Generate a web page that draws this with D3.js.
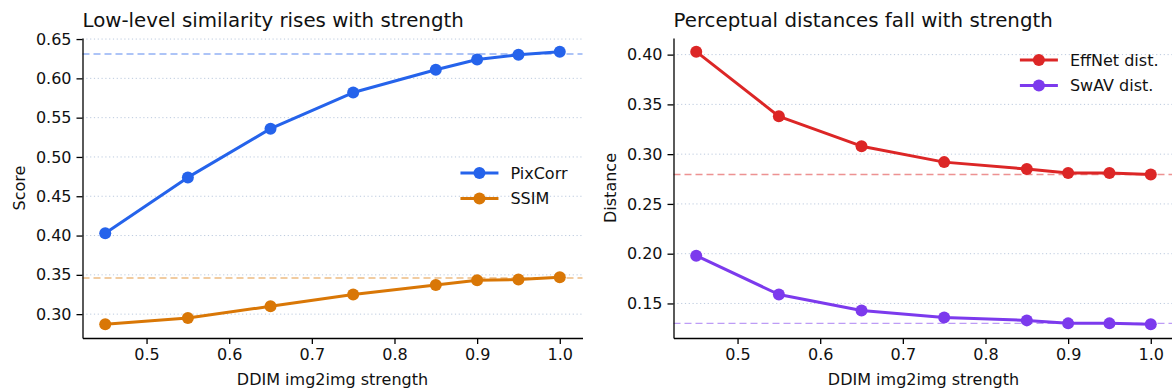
<!DOCTYPE html>
<html>
<head>
<meta charset="utf-8">
<script src="https://cdn.jsdelivr.net/npm/d3@7"></script>
<style>
  body { margin: 0; background: #fff; }
  svg { display: block; font-family: "DejaVu Sans", sans-serif; }
</style>
</head>
<body>
<svg id="chart" width="1172" height="392"></svg>
<script>
// values
const strength = [0.45, 0.55, 0.65, 0.75, 0.85, 0.9, 0.95, 1.0];
const pixCorr = [0.403, 0.474, 0.536, 0.582, 0.611, 0.624, 0.630, 0.634];
const ssim = [0.287, 0.295, 0.310, 0.325, 0.337, 0.343, 0.344, 0.347];
const effNet = [0.403, 0.338, 0.308, 0.292, 0.285, 0.281, 0.281, 0.2795];
const swav = [0.198, 0.159, 0.143, 0.136, 0.133, 0.130, 0.130, 0.129];

// dashed reference levels
const pixCorrRef = 0.631;
const ssimRef = 0.346;
const effNetRef = 0.2795;
const swavRef = 0.130;

const xTicks = [0.5, 0.6, 0.7, 0.8, 0.9, 1.0];
const scoreTicks = [0.30, 0.35, 0.40, 0.45, 0.50, 0.55, 0.60, 0.65];
const distTicks = [0.15, 0.20, 0.25, 0.30, 0.35, 0.40];

const panels = [
  {
    left: 82.5, title: 'Low-level similarity rises with strength', yLabel: 'Score',
    yTicks: scoreTicks, legendPos: 'center',
    series: [
      { name: 'PixCorr', values: pixCorr, ref: pixCorrRef, color: '#2563eb' },
      { name: 'SSIM', values: ssim, ref: ssimRef, color: '#d97706' }
    ]
  },
  {
    left: 673.5, title: 'Perceptual distances fall with strength', yLabel: 'Distance',
    yTicks: distTicks, legendPos: 'top',
    series: [
      { name: 'EffNet dist.', values: effNet, ref: effNetRef, color: '#dc2626' },
      { name: 'SwAV dist.', values: swav, ref: swavRef, color: '#7c3aed' }
    ]
  }
];

const plotTop = 38, plotHeight = 300, plotWidth = 500;
const svg = d3.select('#chart');

// matplotlib style 5% padding around data
function padded(ext) {
  const m = (ext[1] - ext[0]) * 0.05;
  return [ext[0] - m, ext[1] + m];
}

panels.forEach(p => {
  const g = svg.append('g').attr('transform', `translate(${p.left},${plotTop})`);

  const x = d3.scaleLinear().domain(padded(d3.extent(strength))).range([0, plotWidth]);
  const allY = p.series.flatMap(s => s.values);
  const y = d3.scaleLinear().domain(padded(d3.extent(allY))).range([plotHeight, 0]);

  // grid
  g.append('g')
    .selectAll('line')
    .data(p.yTicks)
    .enter()
    .append('line')
    .attr('x1', 0).attr('x2', plotWidth)
    .attr('y1', d => y(d)).attr('y2', d => y(d))
    .attr('stroke', '#bccade')
    .attr('stroke-width', 1)
    .attr('stroke-dasharray', '1.2,2.6');

  // reference levels
  p.series.forEach(s => {
    g.append('line')
      .attr('x1', 0).attr('x2', plotWidth)
      .attr('y1', y(s.ref)).attr('y2', y(s.ref))
      .attr('stroke', s.color)
      .attr('stroke-opacity', 0.5)
      .attr('stroke-width', 1.4)
      .attr('stroke-dasharray', '7,4');
  });

  // axes
  const xAxis = g.append('g')
    .attr('transform', `translate(0,${plotHeight})`)
    .call(d3.axisBottom(x).tickValues(xTicks).tickFormat(d3.format('.1f')).tickSizeInner(6).tickSizeOuter(0).tickPadding(5));
  const yAxis = g.append('g')
    .call(d3.axisLeft(y).tickValues(p.yTicks).tickFormat(d3.format('.2f')).tickSizeInner(6).tickSizeOuter(0).tickPadding(5));

  [xAxis, yAxis].forEach(a => {
    a.select('.domain').attr('stroke', '#000').attr('stroke-width', 1.3);
    a.selectAll('.tick line').attr('stroke', '#000').attr('stroke-width', 1.3);
    a.selectAll('.tick text').attr('fill', '#111').style('font-size', '16px').style('font-family', '"DejaVu Sans", sans-serif');
  });

  // lines and markers
  const line = d3.line().x((d, i) => x(strength[i])).y(d => y(d));
  p.series.forEach(s => {
    g.append('path')
      .datum(s.values)
      .attr('d', line)
      .attr('fill', 'none')
      .attr('stroke', s.color)
      .attr('stroke-width', 3)
      .attr('stroke-linejoin', 'round');
    g.append('g')
      .selectAll('circle')
      .data(s.values)
      .enter()
      .append('circle')
      .attr('cx', (d, i) => x(strength[i]))
      .attr('cy', d => y(d))
      .attr('r', 6)
      .attr('fill', s.color);
  });

  // title and axis labels
  g.append('text')
    .attr('x', 0).attr('y', -11.5)
    .style('font-size', '19.8px')
    .attr('fill', '#111')
    .text(p.title);

  g.append('text')
    .attr('x', plotWidth / 2).attr('y', plotHeight + 47)
    .attr('text-anchor', 'middle')
    .style('font-size', '16px')
    .attr('fill', '#111')
    .text('DDIM img2img strength');

  g.append('text')
    .attr('transform', `translate(${-58},${plotHeight / 2}) rotate(-90)`)
    .attr('text-anchor', 'middle')
    .style('font-size', '16px')
    .attr('fill', '#111')
    .text(p.yLabel);

  // legend
  const rowGap = 25.5;
  const legendY = p.legendPos === 'top' ? 22 : plotHeight / 2 - 15;
  const leg = g.append('g');
  const labels = leg.selectAll('text')
    .data(p.series)
    .enter()
    .append('text')
    .attr('y', (d, i) => legendY + i * rowGap)
    .attr('dy', '0.35em')
    .style('font-size', '16px')
    .attr('fill', '#111')
    .text(d => d.name);
  const maxW = d3.max(labels.nodes(), n => n.getComputedTextLength());
  const textX = plotWidth - 15 - maxW;
  labels.attr('x', textX);
  p.series.forEach((s, i) => {
    const cy = legendY + i * rowGap;
    const cx = textX - 31;
    leg.append('line')
      .attr('x1', cx - 19).attr('x2', cx + 19)
      .attr('y1', cy).attr('y2', cy)
      .attr('stroke', s.color)
      .attr('stroke-width', 3);
    leg.append('circle')
      .attr('cx', cx).attr('cy', cy).attr('r', 6)
      .attr('fill', s.color);
  });
});
</script>
</body>
</html>
